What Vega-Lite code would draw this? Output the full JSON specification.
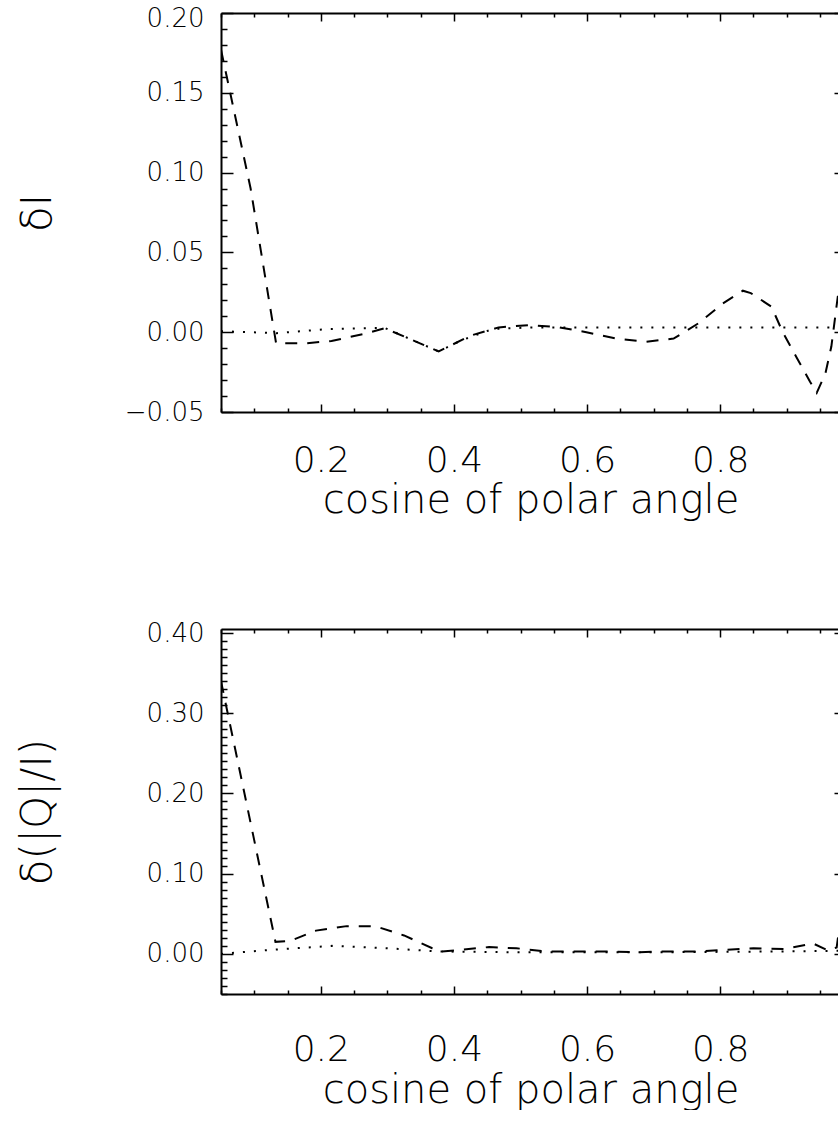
{
  "$schema": "https://vega.github.io/schema/vega-lite/v6.json",
  "background": "white",
  "padding": {"left": 15, "top": 5, "right": 0, "bottom": 0},
  "spacing": 100,
  "config": {
    "view": {"stroke": null},
    "axis": {
      "grid": false,
      "domainColor": "black",
      "domainWidth": 2,
      "tickColor": "black",
      "tickWidth": 1.5,
      "labelFont": "DejaVu Sans",
      "labelFontWeight": 200,
      "labelColor": "black",
      "labelOverlap": false,
      "labelFlush": false,
      "titleFont": "DejaVu Sans",
      "titleFontWeight": 200,
      "titleColor": "black"
    }
  },
  "datasets": {
    "topDashed": [
      {"mu": 0.05, "d": 0.177}, {"mu": 0.0945, "d": 0.09}, {"mu": 0.1328, "d": -0.007},
      {"mu": 0.176, "d": -0.007}, {"mu": 0.216, "d": -0.0055}, {"mu": 0.266, "d": -0.001},
      {"mu": 0.296, "d": 0.0025}, {"mu": 0.349, "d": -0.007}, {"mu": 0.377, "d": -0.012},
      {"mu": 0.426, "d": -0.002}, {"mu": 0.467, "d": 0.003}, {"mu": 0.514, "d": 0.0045},
      {"mu": 0.559, "d": 0.003}, {"mu": 0.599, "d": 0.0}, {"mu": 0.644, "d": -0.004},
      {"mu": 0.689, "d": -0.006}, {"mu": 0.73, "d": -0.004}, {"mu": 0.767, "d": 0.0055},
      {"mu": 0.804, "d": 0.018}, {"mu": 0.834, "d": 0.026}, {"mu": 0.846, "d": 0.0245},
      {"mu": 0.877, "d": 0.016}, {"mu": 0.894, "d": 0.0}, {"mu": 0.915, "d": -0.016},
      {"mu": 0.935, "d": -0.031}, {"mu": 0.945, "d": -0.038}, {"mu": 0.958, "d": -0.026},
      {"mu": 0.967, "d": -0.009}, {"mu": 0.98, "d": 0.033}, {"mu": 0.99, "d": 0.06}
    ],
    "topDotted": [
      {"mu": 0.05, "d": 0.0006}, {"mu": 0.134, "d": -0.0006}, {"mu": 0.212, "d": 0.002},
      {"mu": 0.296, "d": 0.0027}, {"mu": 0.349, "d": -0.007}, {"mu": 0.377, "d": -0.012},
      {"mu": 0.412, "d": -0.005}, {"mu": 0.458, "d": 0.002}, {"mu": 0.516, "d": 0.003},
      {"mu": 0.7, "d": 0.003}, {"mu": 0.99, "d": 0.003}
    ],
    "bottomDashed": [
      {"mu": 0.05, "d": 0.34}, {"mu": 0.1318, "d": 0.015}, {"mu": 0.1534, "d": 0.016},
      {"mu": 0.1927, "d": 0.029}, {"mu": 0.2388, "d": 0.0346}, {"mu": 0.282, "d": 0.0345},
      {"mu": 0.325, "d": 0.023}, {"mu": 0.3674, "d": 0.007}, {"mu": 0.382, "d": 0.003},
      {"mu": 0.4086, "d": 0.005}, {"mu": 0.4527, "d": 0.0085}, {"mu": 0.494, "d": 0.007},
      {"mu": 0.539, "d": 0.003}, {"mu": 0.584, "d": 0.003}, {"mu": 0.626, "d": 0.003},
      {"mu": 0.6736, "d": 0.002}, {"mu": 0.7128, "d": 0.003}, {"mu": 0.7619, "d": 0.003},
      {"mu": 0.806, "d": 0.005}, {"mu": 0.85, "d": 0.007}, {"mu": 0.896, "d": 0.006},
      {"mu": 0.9395, "d": 0.013}, {"mu": 0.963, "d": 0.004}, {"mu": 0.975, "d": 0.008},
      {"mu": 0.985, "d": 0.07}
    ],
    "bottomDotted": [
      {"mu": 0.05, "d": 0.0}, {"mu": 0.124, "d": 0.005}, {"mu": 0.217, "d": 0.01},
      {"mu": 0.2997, "d": 0.007}, {"mu": 0.377, "d": 0.003}, {"mu": 0.497, "d": 0.002},
      {"mu": 0.693, "d": 0.002}, {"mu": 0.889, "d": 0.003}, {"mu": 0.99, "d": 0.004}
    ]
  },
  "vconcat": [
    {
      "width": 619,
      "height": 399,
      "layer": [
        {
          "data": {"name": "topDashed"},
          "mark": {"type": "line", "color": "black", "strokeWidth": 2, "strokeDash": [12, 10], "clip": true},
          "encoding": {
            "x": {"field": "mu", "type": "quantitative",
              "scale": {"domain": [0.05, 0.98], "nice": false, "zero": false},
              "axis": {"orient": "bottom", "title": "cosine of polar angle", "titleFontSize": 40,
                "titleBaseline": "alphabetic", "titleY": 100,
                "values": [0.05,0.1,0.15,0.2,0.25,0.3,0.35,0.4,0.45,0.5,0.55,0.6,0.65,0.7,0.75,0.8,0.85,0.9,0.95],
                "tickSize": {"condition": {"test": "abs(datum.value*5-round(datum.value*5))<1e-6", "value": -8}, "value": -4},
                "labelExpr": "abs(datum.value*5-round(datum.value*5))<1e-6 ? format(datum.value,'.1f') : ''",
                "labelFontSize": 36, "labelBaseline": "alphabetic", "labelPadding": 67}},
            "y": {"field": "d", "type": "quantitative",
              "scale": {"domain": [-0.05, 0.2], "nice": false, "zero": false},
              "axis": {"orient": "left", "title": "δI", "titleFontSize": 42,
                "values": [-0.05,-0.04,-0.03,-0.02,-0.01,0,0.01,0.02,0.03,0.04,0.05,0.06,0.07,0.08,0.09,0.1,0.11,0.12,0.13,0.14,0.15,0.16,0.17,0.18,0.19,0.2],
                "tickSize": {"condition": {"test": "abs(datum.value*20-round(datum.value*20))<1e-6", "value": -12}, "value": -6},
                "labelExpr": "abs(datum.value*20-round(datum.value*20))<1e-6 ? format(datum.value,'.2f') : ''",
                "labelOffset": {"condition": {"test": "datum.value > 0.19", "value": 5}, "value": 0},
                "labelFontSize": 26, "labelPadding": 29, "titleX": -162}}
          }
        },
        {
          "data": {"name": "topDotted"},
          "mark": {"type": "line", "color": "black", "strokeWidth": 2, "strokeDash": [2, 9], "clip": true},
          "encoding": {
            "x": {"field": "mu", "type": "quantitative",
              "axis": {"orient": "top", "title": null, "labels": false,
                "values": [0.05,0.1,0.15,0.2,0.25,0.3,0.35,0.4,0.45,0.5,0.55,0.6,0.65,0.7,0.75,0.8,0.85,0.9,0.95],
                "tickSize": {"condition": {"test": "abs(datum.value*5-round(datum.value*5))<1e-6", "value": -8}, "value": -4}}},
            "y": {"field": "d", "type": "quantitative",
              "axis": {"orient": "right", "title": null, "labels": false, "domain": false,
                "values": [-0.05, 0, 0.05, 0.1, 0.15, 0.2], "tickSize": -6}}
          }
        }
      ],
      "resolve": {"axis": {"x": "independent", "y": "independent"}}
    },
    {
      "width": 619,
      "height": 365,
      "layer": [
        {
          "data": {"name": "bottomDashed"},
          "mark": {"type": "line", "color": "black", "strokeWidth": 2, "strokeDash": [12, 10], "clip": true},
          "encoding": {
            "x": {"field": "mu", "type": "quantitative",
              "scale": {"domain": [0.05, 0.98], "nice": false, "zero": false},
              "axis": {"orient": "bottom", "title": "cosine of polar angle", "titleFontSize": 40,
                "titleBaseline": "alphabetic", "titleY": 108,
                "values": [0.05,0.1,0.15,0.2,0.25,0.3,0.35,0.4,0.45,0.5,0.55,0.6,0.65,0.7,0.75,0.8,0.85,0.9,0.95],
                "tickSize": {"condition": {"test": "abs(datum.value*5-round(datum.value*5))<1e-6", "value": -8}, "value": -4},
                "labelExpr": "abs(datum.value*5-round(datum.value*5))<1e-6 ? format(datum.value,'.1f') : ''",
                "labelFontSize": 36, "labelBaseline": "alphabetic", "labelPadding": 74}},
            "y": {"field": "d", "type": "quantitative",
              "scale": {"domain": [-0.05, 0.405], "nice": false, "zero": false},
              "axis": {"orient": "left", "title": "δ(|Q|/I)", "titleFontSize": 42,
                "values": [-0.05,-0.04,-0.03,-0.02,-0.01,0,0.01,0.02,0.03,0.04,0.05,0.06,0.07,0.08,0.09,0.1,0.11,0.12,0.13,0.14,0.15,0.16,0.17,0.18,0.19,0.2,0.21,0.22,0.23,0.24,0.25,0.26,0.27,0.28,0.29,0.3,0.31,0.32,0.33,0.34,0.35,0.36,0.37,0.38,0.39,0.4],
                "tickSize": {"condition": {"test": "abs(datum.value*10-round(datum.value*10))<1e-6", "value": -12}, "value": -6},
                "labelExpr": "abs(datum.value*10-round(datum.value*10))<1e-6 ? format(datum.value,'.2f') : ''",
                "labelFontSize": 26, "labelPadding": 29, "titleX": -162}}
          }
        },
        {
          "data": {"name": "bottomDotted"},
          "mark": {"type": "line", "color": "black", "strokeWidth": 2, "strokeDash": [2, 9], "clip": true},
          "encoding": {
            "x": {"field": "mu", "type": "quantitative",
              "axis": {"orient": "top", "title": null, "labels": false,
                "values": [0.05,0.1,0.15,0.2,0.25,0.3,0.35,0.4,0.45,0.5,0.55,0.6,0.65,0.7,0.75,0.8,0.85,0.9,0.95],
                "tickSize": {"condition": {"test": "abs(datum.value*5-round(datum.value*5))<1e-6", "value": -8}, "value": -4}}},
            "y": {"field": "d", "type": "quantitative",
              "axis": {"orient": "right", "title": null, "labels": false, "domain": false,
                "values": [0, 0.1, 0.2, 0.3, 0.4], "tickSize": -6}}
          }
        }
      ],
      "resolve": {"axis": {"x": "independent", "y": "independent"}}
    }
  ]
}
